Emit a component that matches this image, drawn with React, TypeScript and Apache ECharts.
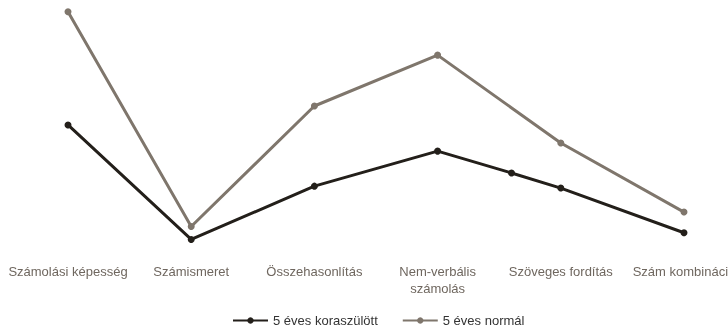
import React, { useEffect, useRef } from "react";
import * as echarts from "echarts";

const categories = [
  "Számolási képesség",
  "Számismeret",
  "Összehasonlítás",
  "Nem-verbális\nszámolás",
  "Szöveges fordítás",
  "Szám kombináció",
];
const seriesNames = ["5 éves koraszülött", "5 éves normál"];
// x positions (category index) and values
const pretermX = [0, 1, 2, 3, 3.6, 4, 5];
const pretermY = [52.1, 4.4, 26.6, 41.2, 32.1, 25.8, 7.2];
const normalX = [0, 1, 2, 3, 4, 5];
const normalY = [99.3, 9.8, 60.0, 81.2, 44.6, 15.8];

export default function App() {
  const ref = useRef<HTMLDivElement>(null);
  useEffect(() => {
    if (!ref.current) return;
    const chart = echarts.init(ref.current, null, { renderer: "svg" });
    chart.setOption({
      animation: false,
      textStyle: { fontFamily: "Liberation Sans, Arial, sans-serif" },
      grid: {
        left: 68,
        right: 44,
        top: 10,
        bottom: 79,
        containLabel: false,
        outerBoundsMode: "none",
      },
      xAxis: {
        type: "value",
        min: 0,
        max: 5,
        interval: 1,
        axisLine: { show: false },
        axisTick: { show: false },
        splitLine: { show: false },
        axisLabel: {
          margin: 13,
          fontSize: 13,
          color: "#6f675f",
          lineHeight: 17,
          showMinLabel: true,
          showMaxLabel: true,
          formatter: (v: number) => categories[Math.round(v)] ?? "",
        },
      },
      yAxis: {
        type: "value",
        min: 0,
        max: 100,
        show: false,
      },
      legend: {
        bottom: -3,
        left: 227,
        itemWidth: 35,
        itemHeight: 8,
        itemGap: 24,
        textStyle: { fontSize: 13, color: "#333" },
        data: seriesNames,
      },
      series: [
        {
          name: seriesNames[0],
          type: "line",
          data: pretermX.map((x, i) => [x, pretermY[i]]),
          symbol: "circle",
          symbolSize: 7,
          lineStyle: { width: 3, color: "#231f1a" },
          itemStyle: { color: "#231f1a" },
        },
        {
          name: seriesNames[1],
          type: "line",
          data: normalX.map((x, i) => [x, normalY[i]]),
          symbol: "circle",
          symbolSize: 7,
          lineStyle: { width: 3, color: "#7f766c" },
          itemStyle: { color: "#7f766c" },
        },
      ],
    });
    return () => chart.dispose();
  }, []);
  return (
    <div
      ref={ref}
      style={{ position: "fixed", left: 0, top: 0, width: 728, height: 329 }}
    />
  );
}
